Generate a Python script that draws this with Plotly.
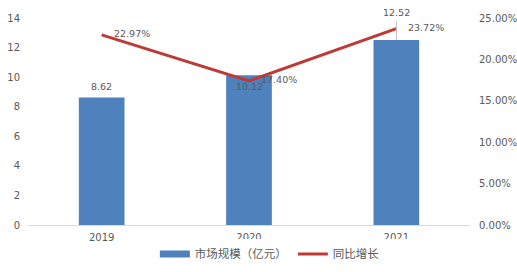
import plotly.graph_objects as go

years = ["2019", "2020", "2021"]
market_size = [8.62, 10.12, 12.52]
growth_pct = [22.97, 17.40, 23.72]
left_ticks = [0, 2, 4, 6, 8, 10, 12, 14]
right_ticks = [0, 5, 10, 15, 20, 25]

BLUE = "#4F81BD"
RED = "#BE3A36"
GRAY = "#595959"
NUM_FONT = "DejaVu Sans"
CJK_FONT = "Noto Sans CJK SC"

fig = go.Figure()
fig.add_trace(go.Bar(
    x=years, y=market_size, name="市场规模（亿元）",
    marker=dict(color=BLUE, line=dict(width=0)), width=0.31,
    yaxis="y", showlegend=False,
))
# legend-only entry drawn as a wide flat swatch like the original
fig.add_trace(go.Scatter(
    x=[None], y=[None], mode="lines", name="市场规模（亿元）",
    line=dict(color=BLUE, width=7), showlegend=True,
))
fig.add_trace(go.Scatter(
    x=years, y=growth_pct, name="同比增长", mode="lines",
    line=dict(color=RED, width=3),
    yaxis="y2", cliponaxis=False,
))

annotations = []
# bar value labels (category axis -> use category index)
shifts = [(0, 11, False), (0, -11, False), (0, 27, True)]
for i, (v, (dx, dy, arrow)) in enumerate(zip(market_size, shifts)):
    annotations.append(dict(
        x=i, y=v, xref="x", yref="y", text=f"{v:.2f}", showarrow=False,
        yshift=dy, xshift=dx,
        font=dict(family=NUM_FONT, size=9.5, color=GRAY),
    ))
    if arrow:
        annotations.append(dict(
            x=i, y=v, xref="x", yref="y", ax=0, ay=-20, text="",
            showarrow=True, arrowhead=0, arrowwidth=1, arrowcolor="#BFBFBF",
            standoff=0, startstandoff=0,
        ))
# growth labels, to the right of each point
for i, g in enumerate(growth_pct):
    annotations.append(dict(
        x=i, y=g, xref="x", yref="y2", text=f"{g:.2f}%", showarrow=False,
        xanchor="left", xshift=10, yshift=1,
        font=dict(family=NUM_FONT, size=9.5, color=GRAY),
    ))

fig.update_layout(
    width=517, height=272,
    margin=dict(l=28, r=47, t=18, b=47, autoexpand=False),
    paper_bgcolor="white", plot_bgcolor="white",
    showlegend=True,
    legend=dict(orientation="h", x=0.287, xanchor="left", y=-0.07, yanchor="top",
                font=dict(family=CJK_FONT, size=11.5, color=GRAY),
                itemwidth=30, traceorder="normal", entrywidth=93,
                entrywidthmode="pixels"),
    xaxis=dict(type="category", range=[-0.5, 2.5], showgrid=False, showline=True,
               linecolor="#D9D9D9", linewidth=1, ticks="", ticklabelstandoff=3,
               tickfont=dict(family=NUM_FONT, size=10, color=GRAY)),
    yaxis=dict(range=[0, 14], tickvals=left_ticks, showgrid=False, zeroline=False,
               showline=False, tickfont=dict(family=NUM_FONT, size=10, color=GRAY),
               ticklabelstandoff=7),
    yaxis2=dict(range=[0, 25], tickvals=right_ticks,
                ticktext=[f"{v:.2f}%" for v in right_ticks],
                overlaying="y", side="right", showgrid=False, zeroline=False,
                showline=False, tickfont=dict(family=NUM_FONT, size=10, color=GRAY),
                ticklabelstandoff=8),
    annotations=annotations,
)
fig.write_html("out.html")
